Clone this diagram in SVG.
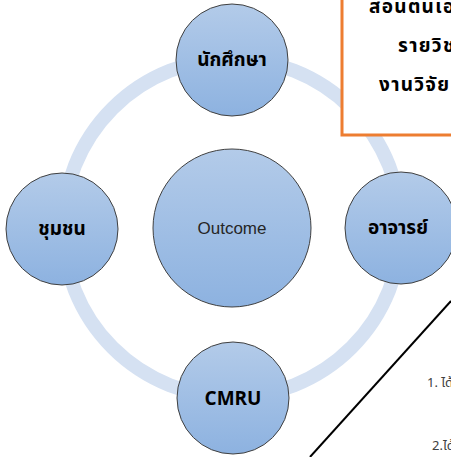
<svg xmlns="http://www.w3.org/2000/svg" width="451" height="457" viewBox="0 0 451 457">
  <defs>
    <linearGradient id="g" x1="0" y1="0" x2="0" y2="1">
      <stop offset="0" stop-color="#b3cbe9"/>
      <stop offset="1" stop-color="#8db2e0"/>
    </linearGradient>
    <style>
      .n { fill: url(#g); stroke: #404040; stroke-width: 1; }
      .t { font-family: "Noto Sans Thai", "Liberation Sans", "Noto Sans", sans-serif; font-weight: bold; font-size: 19px; fill: #000; text-anchor: middle; }
      .o { font-family: "Liberation Sans", "Noto Sans", sans-serif; font-size: 17px; fill: #262626; text-anchor: middle; }
      .b { font-family: "Noto Sans Thai", "Liberation Sans", sans-serif; font-weight: bold; font-size: 19px; letter-spacing: 1.3px; fill: #000; }
      .s { font-family: "Noto Sans Thai", "Liberation Sans", sans-serif; font-size: 13px; fill: #404040; }
    </style>
  </defs>
  <rect width="451" height="457" fill="#fff"/>
  <g id="connectors">
    <circle cx="232" cy="228" r="169" fill="none" stroke="#d5e1f2" stroke-width="14"/>
    <line x1="310" y1="457" x2="451" y2="301" stroke="#000" stroke-width="2"/>
  </g>
  <g id="box">
    <rect x="342" y="-10" width="130" height="145" fill="#fff" stroke="#ed7d31" stroke-width="3"/>
    <text class="b" x="369" y="13">สอนตนเอ</text>
    <text class="b" x="398" y="52">รายวิช</text>
    <text class="b" x="379" y="91">งานวิจัย</text>
  </g>
  <g id="outcome">
    <circle class="n" cx="232" cy="228" r="79"/>
    <text class="o" x="232" y="234">Outcome</text>
  </g>
  <g id="student">
    <circle class="n" cx="232" cy="60" r="56"/>
    <text class="t" x="232" y="66">นักศึกษา</text>
  </g>
  <g id="community">
    <circle class="n" cx="62" cy="229" r="56"/>
    <text class="t" x="62" y="235">ชุมชน</text>
  </g>
  <g id="teacher">
    <circle class="n" cx="401" cy="228" r="56"/>
    <text class="t" x="398" y="234">อาจารย์</text>
  </g>
  <g id="cmru">
    <circle class="n" cx="233" cy="398" r="56"/>
    <text class="t" x="233" y="405">CMRU</text>
  </g>
  <g id="notes">
    <text class="s" x="427" y="387">1. ได้</text>
    <text class="s" x="432" y="450">2.ได้</text>
  </g>
</svg>
